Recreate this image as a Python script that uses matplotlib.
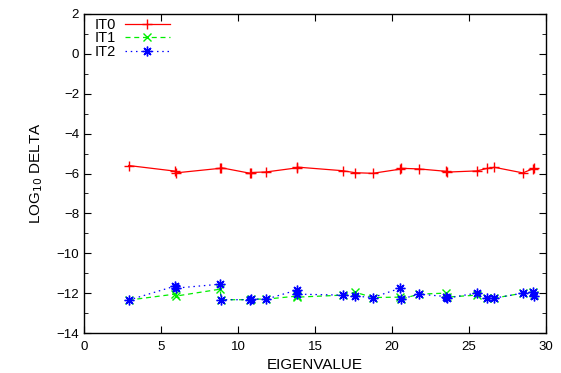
import numpy
from matplotlib import pyplot

pyplot.rcParams["font.family"] = ["Liberation Sans", "DejaVu Sans"]
pyplot.rcParams["font.size"] = 9.5

# eigenvalues (degenerate ones appear as close pairs)
eig = numpy.asarray([2.9, 5.9, 5.95, 8.85, 8.9, 10.8, 10.85, 11.85, 13.8,
                     13.85, 16.8, 17.6, 18.75, 20.55, 20.6, 21.75, 23.5,
                     23.55, 25.5, 26.2, 26.65, 28.5, 29.15, 29.2])

it0 = numpy.asarray([-5.6, -5.88, -5.97, -5.74, -5.71, -5.99, -5.95, -5.92,
                     -5.72, -5.68, -5.86, -5.96, -5.99, -5.78, -5.74, -5.77,
                     -5.89, -5.93, -5.87, -5.74, -5.69, -5.97, -5.76, -5.72])

it1 = numpy.asarray([-12.35, -12.05, -12.15, -11.8, -12.33, -12.33, -12.3,
                     -12.3, -12.15, -12.2, -12.1, -11.95, -12.22, -12.2,
                     -12.3, -12.05, -12.0, -12.2, -12.1, -12.25, -12.25,
                     -12.0, -11.95, -12.1])

it2 = numpy.asarray([-12.35, -11.65, -11.75, -11.55, -12.33, -12.33, -12.3,
                     -12.3, -11.85, -12.05, -12.1, -12.15, -12.22, -11.75,
                     -12.3, -12.05, -12.17, -12.25, -12.0, -12.25, -12.25,
                     -12.0, -11.95, -12.15])

fig = pyplot.figure(figsize=(5.61, 3.73), dpi=100)
axes = fig.add_axes([0.1497, 0.1072, 0.8236, 0.8553])

axes.plot(eig, it0, color="#ff0000", lw=0.9, marker="+", ms=7, mew=1.0,
          label="IT0")
axes.plot(eig, it1, color="#00ee00", lw=0.9, ls=(0, (4, 3)), marker="x",
          ms=5.5, mew=1.0, label="IT1")
axes.plot(eig, it2, color="#0000ff", lw=0.9, ls=(0, (1.2, 3)),
          marker=(8, 2, 0), ms=7, mew=1.0, label="IT2")

axes.set_xlim(0, 30)
axes.set_ylim(-14, 2)
axes.set_xticks(numpy.arange(0, 31, 5))
axes.set_yticks(numpy.arange(-14, 3, 2))
axes.set_yticks(numpy.arange(-14, 3, 1), minor=True)
axes.tick_params(which="both", direction="in", top=True, right=True)
axes.tick_params(which="major", length=5)
axes.tick_params(which="minor", length=3)
axes.tick_params(axis="x", pad=6)
for spine in axes.spines.values():
    spine.set_linewidth(1.0)

axes.set_xlabel("EIGENVALUE", fontsize=11, labelpad=3)
axes.set_ylabel("LOG$_{10}$ DELTA", fontsize=11, labelpad=8)

axes.legend(loc="upper left", bbox_to_anchor=(0.01, 1.005), frameon=False,
            markerfirst=False, numpoints=1, fontsize=10.5, handlelength=3.1,
            labelspacing=-0.05, borderaxespad=0.1, borderpad=0.3,
            handletextpad=0.6)

fig.savefig("out.png", dpi=100)
